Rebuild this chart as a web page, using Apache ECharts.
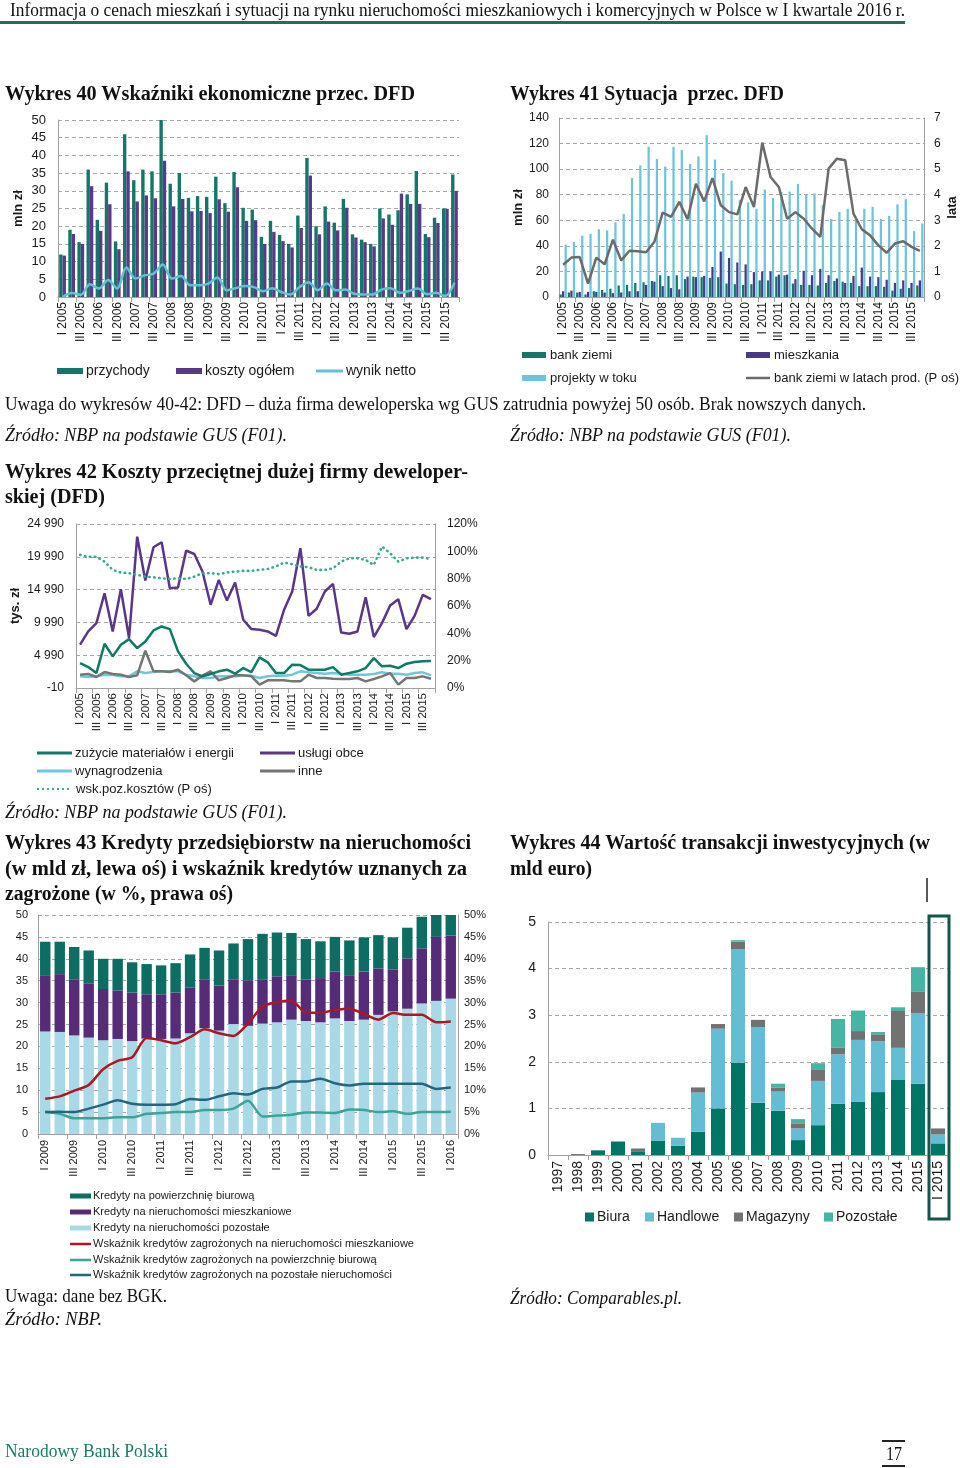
<!DOCTYPE html>
<html><head><meta charset="utf-8">
<script src="https://cdn.jsdelivr.net/npm/echarts@6/dist/echarts.min.js"></script>
<style>
html,body{margin:0;padding:0;background:#fff;}
#page{position:relative;width:960px;height:1468px;overflow:hidden;background:#fff;}
#chart{position:absolute;left:0;top:0;width:960px;height:1468px;}
.t{position:absolute;white-space:pre;transform-origin:0 50%;color:#111;line-height:1;}
.rule{position:absolute;}
</style></head><body>
<div id="page"><div id="chart"></div></div>
<script>
// ---------- categories ----------
const romans = ['I','II','III','IV'];
const quarters0515 = [];
for (let y = 2005; y <= 2015; y++) for (let q = 0; q < 4; q++) quarters0515.push(romans[q] + ' ' + y);
const quarters0916 = [];
for (let y = 2009; y <= 2016; y++) for (let q = 0; q < 4; q++) { if (y === 2016 && q > 0) break; quarters0916.push(romans[q] + ' ' + y); }
const years44 = ['1997','1998','1999','2000','2001','2002','2003','2004','2005','2006','2007','2008','2009','2010','2011','2012','2013','2014','2015','I 2015'];

// ---------- Wykres 40 ----------
const w40_przychody = [12,19,15.5,36,21.8,32.3,15.7,46,33,36,35.5,50,32,35,28,28.5,28.3,34,26.5,35.3,25.2,24.7,17,21.5,17.5,15,23,39.3,20,25.6,21,27.7,17.7,16.2,15,25,23.3,24.5,29,35.6,17.8,22.4,25,34.6];
const w40_koszty = [11.7,17.8,15,31.3,18.7,26.2,13.5,35.5,27,28.7,27.9,38.5,25.6,27.7,24.2,24.3,23.7,27.6,24.1,31,21.5,21.7,15,18.4,15.8,14,19.5,34.3,17.7,21.3,18.8,25.2,16.8,15.5,14.3,22.2,20.4,29.2,26.3,26.3,16.9,20.9,24.9,30];
const w40_netto = [0,1.1,0.6,3.6,2.4,4.8,2.4,8.3,5.2,6.1,6.6,9.2,5.2,5.9,3.3,3.3,3.8,5.5,1.9,2.5,3.1,2.8,1.6,2.5,1.4,0.7,2.8,4.2,1.9,3.8,1.9,2.1,0.9,0.7,0.7,2.1,2.5,1.2,1.7,2.4,0.8,1.2,0.3,4.0];

// ---------- Wykres 41 ----------
const w41_bankZiemi = [2,3.5,3.5,2,4.5,5.5,6.5,9,9.5,11,11.5,12.5,17,16.5,17,14,16,15.5,15,15.5,10.5,10,9.5,10,13,13,16,17,10.5,9.5,9.5,9,11,12.5,12,11,8.5,8.5,8.5,8,5,6.5,7,9];
const w41_mieszkania = [4.5,5,4,4,4,3.5,3,3.5,4.5,4.5,9.5,12,8.5,7,6,16,15.5,16.5,23.5,35.5,30.5,27,25.5,19.5,20,20,17.5,17.5,14,20.5,17,22,17,14.5,11,16.5,23,16,15.5,13.5,11,13,11,13];
const w41_projekty = [41,43,48,49.5,53,52,58.5,65,93,103,117.5,108,102,117.5,115,104,110,126.5,107.5,97,91,76,74,69,84,77.5,82,82.5,88.5,80,81,72,61,66.5,69,60,69,70.5,61,63.5,72.5,76.5,51.5,57.5];
const w41_lata = [1.26,1.54,1.56,0.52,1.54,1.28,2.24,1.43,1.81,1.79,1.75,2.16,3.3,3.13,3.72,3.04,4.43,3.74,4.65,3.59,3.32,3.23,4.3,3.52,6.04,4.69,4.3,3.06,3.32,3.06,2.67,2.35,5.02,5.41,5.35,3.26,2.65,2.41,2.02,1.73,2.09,2.18,1.96,1.8];

// ---------- Wykres 42 ----------
const w42_zuzycie = [3790,3180,2270,6730,4810,6580,7440,6070,7090,8760,9370,8970,5570,3690,2270,1770,2120,2530,2780,2170,3030,2400,4660,3900,2270,2270,3540,3490,2780,2780,2780,3180,2020,2270,2530,3030,4550,3290,3390,3030,3690,3950,4050,4100];
const w42_uslugi = [6590,8610,9880,14440,8610,15050,7600,23060,16370,21440,22200,15200,15300,20930,20420,17740,12670,16470,13330,16070,10390,8970,8870,8610,7950,11910,14700,21290,10990,12060,14700,15860,8460,8250,8610,13830,7750,9880,12570,13530,8970,10990,14190,13530];
const w42_wynagr = [1770,1660,1770,2020,1970,1770,1770,2530,2270,2420,2530,2530,2530,2020,1770,1510,1510,1770,1770,1770,1870,1870,1510,1770,1870,1870,2020,2530,2380,2270,2170,2270,2170,2020,2020,2020,2120,2380,2170,2170,2020,2270,2380,1920];
const w42_inne = [2020,2120,1660,2420,2120,2020,1660,1920,5670,2530,2530,2420,2780,1920,1000,1870,2530,1160,1510,1920,1920,1770,500,1160,1160,1160,1000,1000,2020,1510,1510,1410,1360,1360,1510,1000,1360,1770,2270,500,1510,1510,1770,1400];
const w42_wsk = [0.974,0.96,0.96,0.925,0.864,0.845,0.84,0.828,0.815,0.81,0.803,0.798,0.803,0.798,0.815,0.84,0.84,0.833,0.845,0.852,0.857,0.857,0.864,0.871,0.889,0.918,0.906,0.889,0.884,0.864,0.864,0.876,0.925,0.949,0.949,0.937,0.90,1.035,0.986,0.925,0.949,0.954,0.954,0.944];

// ---------- Wykres 43 ----------
const w43_pozostale = [23.4,23.3,22.5,22,21.4,21.7,21.2,21.8,21.7,21.8,23,24.2,23.6,25.1,24.7,25.2,25.5,26.1,25.8,25.5,26.4,25.8,26.1,27.2,28,28.6,29.8,30.4,30.9];
const w43_mieszkaniowe = [12.7,13.2,12.7,12.4,11.7,11.1,11.1,10.1,10.2,10.5,10.4,11,10.3,10.1,10.4,10,10.5,10,9.5,10.1,10.7,10.3,11,10.6,9.6,11.5,12.6,14.6,14.4];
const w43_biurowa = [7.8,7.4,7.5,7.5,6.9,7.2,6.9,6.9,6.6,6.7,7.6,7.3,8,8.3,9.4,10.5,10,9.8,9.2,8.4,7.9,8.1,7.8,7.6,7.3,7,7.2,5,4.7];
const w43_nplMieszk = [8.05,8.6,9.9,11.2,14.8,16.7,17.5,21.9,21.4,20.7,22.1,23.9,23,22.4,25.2,29.1,30.1,30.5,27.7,27.7,28.3,28.6,27.4,26.1,27.6,27.2,27.2,25.5,25.7];
const w43_nplBiur = [5,4.6,3.6,3.6,3.6,3.8,3.8,4.6,4.8,5,5,5.5,5.5,5.8,7.6,4,4.2,4.4,4.9,4.9,4.8,5.6,5.5,5,5.2,4.6,5,5,5.1];
const w43_nplPoz = [5,5.1,5,5.8,6.7,7.7,6.9,6.7,6.7,6.8,8,7.8,8.6,9.3,9,10.3,10.6,12,12,12.6,11.6,11.1,11.5,11.5,11.5,11.5,11.5,10.3,10.6];

// ---------- Wykres 44 ----------
const w44_biura = [0,0,0.1,0.29,0.08,0.31,0.2,0.5,1.0,1.98,1.12,0.95,0.32,0.64,1.1,1.14,1.35,1.61,1.53,0.25];
const w44_handlowe = [0,0,0,0,0,0.38,0.17,0.84,1.71,2.44,1.62,0.41,0.25,0.95,1.06,1.33,1.09,0.69,1.51,0.19];
const w44_magazyny = [0,0.02,0,0,0.06,0,0,0.11,0.1,0.16,0.16,0.09,0.11,0.25,0.14,0.19,0.15,0.79,0.46,0.13];
const w44_pozostale = [0,0,0,0,0,0,0,0,0,0.03,0,0.08,0.09,0.13,0.62,0.44,0.05,0.08,0.53,0];

// ---------- page texts ----------
const SERIF = '"Liberation Serif","DejaVu Serif",serif';
const texts = [
  {t:'Informacja o cenach mieszkań i sytuacji na rynku nieruchomości mieszkaniowych i komercyjnych w Polsce w I kwartale 2016 r.', x:10, y:10, w:895, fs:18},
  {t:'Wykres 40 Wskaźniki ekonomiczne przec. DFD', x:5, y:93, w:410, fs:20, b:1},
  {t:'Wykres 41 Sytuacja  przec. DFD', x:510, y:93, w:274, fs:20, b:1},
  {t:'Uwaga do wykresów 40-42: DFD – duża firma deweloperska wg GUS zatrudnia powyżej 50 osób. Brak nowszych danych.', x:5, y:404, w:861, fs:18},
  {t:'Źródło: NBP na podstawie GUS (F01).', x:5, y:435, w:282, fs:18, i:1},
  {t:'Źródło: NBP na podstawie GUS (F01).', x:510, y:435, w:281, fs:18, i:1},
  {t:'Wykres 42 Koszty przeciętnej dużej firmy deweloper-', x:5, y:471, w:463, fs:20, b:1},
  {t:'skiej (DFD)', x:5, y:496, w:100, fs:20, b:1},
  {t:'Źródło: NBP na podstawie GUS (F01).', x:5, y:812, w:282, fs:18, i:1},
  {t:'Wykres 43 Kredyty przedsiębiorstw na nieruchomości', x:5, y:842, w:466, fs:20, b:1},
  {t:'(w mld zł, lewa oś) i wskaźnik kredytów uznanych za', x:5, y:868, w:462, fs:20, b:1},
  {t:'zagrożone (w %, prawa oś)', x:5, y:893, w:228, fs:20, b:1},
  {t:'Wykres 44 Wartość transakcji inwestycyjnych (w', x:510, y:842, w:420, fs:20, b:1},
  {t:'mld euro)', x:510, y:868, w:82, fs:20, b:1},
  {t:'Uwaga: dane bez BGK.', x:5, y:1296, w:162, fs:18},
  {t:'Źródło: NBP.', x:5, y:1319, w:97, fs:18, i:1},
  {t:'Źródło: Comparables.pl.', x:510, y:1298, w:172, fs:18, i:1},
  {t:'Narodowy Bank Polski', x:5, y:1451, w:163, fs:18, c:'#1b7a66'},
  {t:'17', x:886, y:1454, w:16, fs:18}
];
const page = document.getElementById('page');
texts.forEach(o => {
  const d = document.createElement('div');
  d.className = 't';
  d.textContent = o.t;
  d.style.left = o.x + 'px';
  d.style.top = (o.y - o.fs / 2) + 'px';
  d.style.fontSize = o.fs + 'px';
  d.style.fontFamily = SERIF;
  if (o.b) d.style.fontWeight = 'bold';
  if (o.i) d.style.fontStyle = 'italic';
  if (o.c) d.style.color = o.c;
  page.appendChild(d);
  const wNow = d.getBoundingClientRect().width;
  if (wNow > 0) d.style.transform = 'scaleX(' + (o.w / wNow) + ')';
});
function rule(x, y, w, h, c) {
  const r = document.createElement('div');
  r.className = 'rule';
  Object.assign(r.style, {left:x+'px', top:y+'px', width:w+'px', height:h+'px', background:c});
  page.appendChild(r);
}
rule(0, 21, 905, 3, '#1f6f5c');
rule(882, 1440, 23, 1.5, '#222');
rule(882, 1465, 23, 1.5, '#222');

// ---------- chart ----------
const SANS = 'Liberation Sans, Arial, sans-serif';
const AX = '#a0a0a0';
const TXT = '#1a1a1a';
const LINE_ICON = 'rect';
const DOT_ICON = 'path://M0,0h2v2h-2z M5,0h2v2h-2z M10,0h2v2h-2z M15,0h2v2h-2z M20,0h2v2h-2z M25,0h2v2h-2z M30,0h2v2h-2z';
function catAxis(grid, data, fs, extra) {
  return Object.assign({
    type:'category', gridIndex:grid, data:data,
    axisLine:{show:true, lineStyle:{color:AX, width:1}},
    axisTick:{show:true, lineStyle:{color:AX}},
    axisLabel:{rotate:90, interval:1, fontSize:fs, color:TXT, fontFamily:SANS, margin:5}
  }, extra || {});
}
function valAxis(grid, min, max, interval, fs, extra) {
  return Object.assign({
    type:'value', gridIndex:grid, min:min, max:max, interval:interval,
    axisLine:{show:true, lineStyle:{color:AX, width:1}},
    axisTick:{show:false},
    splitLine:{show:true, lineStyle:{type:[4,3], color:'#a8a8a8', width:1}},
    axisLabel:{fontSize:fs, color:TXT, fontFamily:SANS, margin:10}
  }, extra || {});
}
function leg(name, x, cy, o) {
  o = o || {};
  const fs = o.fs || 13;
  const lh = Math.max(fs + 2, o.h || 7);
  return {
    data:[name], left:x, top:cy - lh / 2, orient:'horizontal', padding:0,
    itemWidth:o.w || 25, itemHeight:o.h || 7, itemGap:0, selectedMode:false,
    icon:o.icon || 'rect', textStyle:{fontSize:fs, fontFamily:SANS, color:TXT, lineHeight:lh, padding:[0,0,0,o.tp||-1]}
  };
}
const thousands = v => String(v).replace(/\B(?=(\d{3})+(?!\d))/g, ' ');

const C = {
  teal:'#127768', purple:'#5a3a88', lblue:'#63c1d3', grey:'#6b6b6b',
  teal41:'#127768', purple41:'#4b3889', proj:'#6cc5d8',
  z42:'#0f7a66', u42:'#5b3589', w42:'#6fc7dc', i42:'#757575', d42:'#3aa896',
  b43:'#0d6d63', m43:'#562c78', p43:'#a9d8e6', r43:'#ae1622', nb43:'#3aa597', np43:'#22687c',
  b44:'#007766', h44:'#63bdd5', m44:'#727272', p44:'#46b5a3'
};

const option = {
  animation:false,
  textStyle:{fontFamily:SANS},
  grid:[
    {left:58, top:120, width:401, height:177},
    {left:559, top:118, width:368, height:179},
    {left:76, top:524, width:359, height:164},
    {left:38, top:915, width:420, height:219},
    {left:548, top:922, width:400, height:233}
  ],
  xAxis:[
    catAxis(0, quarters0515, 12, {axisTick:{show:true, interval:1, lineStyle:{color:AX}}}),
    catAxis(1, quarters0515, 12),
    catAxis(2, quarters0515, 11.5),
    catAxis(3, quarters0916, 11, {axisLabel:{rotate:90, interval:1, fontSize:11, color:TXT, fontFamily:SANS, margin:6}}),
    catAxis(4, years44, 14, {axisTick:{show:true, interval:0, lineStyle:{color:AX}}, axisLabel:{rotate:90, interval:0, fontSize:14, color:TXT, fontFamily:SANS, margin:6}})
  ],
  yAxis:[
    valAxis(0, 0, 50, 5, 13, {name:'mln zł', nameLocation:'middle', nameGap:33, nameTextStyle:{fontSize:13, fontWeight:'bold', color:TXT, fontFamily:SANS}, axisLabel:{fontSize:13, color:TXT, fontFamily:SANS, margin:12}}),
    valAxis(1, 0, 140, 20, 12, {name:'mln zł', nameLocation:'middle', nameGap:34, nameTextStyle:{fontSize:13, fontWeight:'bold', color:TXT, fontFamily:SANS}}),
    valAxis(1, 0, 7, 1, 12, {position:'right', splitLine:{show:false}, name:'lata', nameLocation:'middle', nameGap:22, nameRotate:90, nameTextStyle:{fontSize:13, fontWeight:'bold', color:TXT, fontFamily:SANS}}),
    valAxis(2, -10, 24990, 5000, 12, {name:'tys. zł', nameLocation:'middle', nameGap:54, nameTextStyle:{fontSize:13, fontWeight:'bold', color:TXT, fontFamily:SANS}, axisLabel:{fontSize:12, color:TXT, fontFamily:SANS, margin:12, formatter:thousands}}),
    valAxis(2, 0, 1.2, 0.2, 12, {position:'right', splitLine:{show:false}, axisLabel:{fontSize:12, color:TXT, fontFamily:SANS, margin:12, formatter:v => Math.round(v * 100) + '%'}}),
    valAxis(3, 0, 50, 5, 11, {axisLabel:{fontSize:11, color:TXT, fontFamily:SANS, margin:10}}),
    valAxis(3, 0, 50, 5, 11, {position:'right', splitLine:{show:false}, axisLabel:{fontSize:11, color:TXT, fontFamily:SANS, margin:6, formatter:'{value}%'}}),
    valAxis(4, 0, 5, 1, 14, {axisLabel:{fontSize:14, color:TXT, fontFamily:SANS, margin:12}})
  ],
  legend:[
    leg('przychody', 57, 371, {fs:14, w:26, h:6, tp:-2}),
    leg('koszty ogółem', 176, 371, {fs:14, w:26, h:6, tp:-2}),
    leg('wynik netto', 316, 371, {fs:14, w:27, h:3, tp:-2, icon:LINE_ICON}),
    leg('bank ziemi', 522, 355, {fs:13, w:24, h:6}),
    leg('mieszkania', 746, 355, {fs:13, w:24, h:6}),
    leg('projekty w toku', 522, 378, {fs:13, w:24, h:6}),
    leg('bank ziemi w latach prod. (P oś)', 746, 378, {fs:13, w:24, h:2.5, icon:LINE_ICON}),
    leg('zużycie materiałów i energii', 37, 753, {fs:13, w:35, h:3, icon:LINE_ICON, tp:-2}),
    leg('usługi obce', 260, 753, {fs:13, w:35, h:3, icon:LINE_ICON, tp:-2}),
    leg('wynagrodzenia', 37, 771, {fs:13, w:35, h:3, icon:LINE_ICON, tp:-2}),
    leg('inne', 260, 771, {fs:13, w:35, h:3, icon:LINE_ICON, tp:-2}),
    leg('wsk.poz.kosztów (P oś)', 37, 789, {fs:13, w:32, h:2.5, icon:DOT_ICON, tp:2}),
    leg('Kredyty na powierzchnię biurową', 70, 1196, {fs:11, w:21, h:5, tp:-3}),
    leg('Kredyty na nieruchomości mieszkaniowe', 70, 1212, {fs:11, w:21, h:5, tp:-3}),
    leg('Kredyty na nieruchomości pozostałe', 70, 1228, {fs:11, w:21, h:5, tp:-3}),
    leg('Wskaźnik kredytów zagrożonych na nieruchomości mieszkaniowe', 70, 1244, {fs:11, w:21, h:2.5, tp:-3, icon:LINE_ICON}),
    leg('Wskaźnik kredytów zagrożonych na powierzchnię biurową', 70, 1260, {fs:11, w:21, h:2.5, tp:-3, icon:LINE_ICON}),
    leg('Wskaźnik kredytów zagrożonych na pozostałe nieruchomości', 70, 1275, {fs:11, w:21, h:2.5, tp:-3, icon:LINE_ICON}),
    leg('Biura', 585, 1217, {fs:14, w:9, h:9, tp:-2}),
    leg('Handlowe', 645, 1217, {fs:14, w:9, h:9, tp:-2}),
    leg('Magazyny', 734, 1217, {fs:14, w:9, h:9, tp:-2}),
    leg('Pozostałe', 824, 1217, {fs:14, w:9, h:9, tp:-2})
  ],
  graphic:[
    {type:'rect', shape:{x:929, y:916, width:20, height:303}, style:{fill:null, stroke:'#14574a', lineWidth:3}, z:100},
    {type:'line', shape:{x1:927, y1:878, x2:927, y2:902}, style:{stroke:'#222', lineWidth:1.5}, z:100}
  ],
  series:[
    // Wykres 40
    {name:'przychody', type:'bar', xAxisIndex:0, yAxisIndex:0, data:w40_przychody, itemStyle:{color:C.teal}, barGap:'0%', barCategoryGap:'26%'},
    {name:'koszty ogółem', type:'bar', xAxisIndex:0, yAxisIndex:0, data:w40_koszty, itemStyle:{color:C.purple}},
    {name:'wynik netto', type:'line', xAxisIndex:0, yAxisIndex:0, data:w40_netto, symbol:'none', smooth:0.3, lineStyle:{color:C.lblue, width:2.5}, itemStyle:{color:C.lblue}},
    // Wykres 41
    {name:'bank ziemi', type:'bar', xAxisIndex:1, yAxisIndex:1, data:w41_bankZiemi, itemStyle:{color:C.teal41}, barGap:'12%', barCategoryGap:'12%'},
    {name:'mieszkania', type:'bar', xAxisIndex:1, yAxisIndex:1, data:w41_mieszkania, itemStyle:{color:C.purple41}},
    {name:'projekty w toku', type:'bar', xAxisIndex:1, yAxisIndex:1, data:w41_projekty, itemStyle:{color:C.proj}},
    {name:'bank ziemi w latach prod. (P oś)', type:'line', xAxisIndex:1, yAxisIndex:2, data:w41_lata, symbol:'none', lineStyle:{color:C.grey, width:2.5}, itemStyle:{color:C.grey}},
    // Wykres 42
    {name:'wynagrodzenia', type:'line', xAxisIndex:2, yAxisIndex:3, data:w42_wynagr, symbol:'none', lineStyle:{color:C.w42, width:2.5}, itemStyle:{color:C.w42}},
    {name:'inne', type:'line', xAxisIndex:2, yAxisIndex:3, data:w42_inne, symbol:'none', lineStyle:{color:C.i42, width:2.5}, itemStyle:{color:C.i42}},
    {name:'zużycie materiałów i energii', type:'line', xAxisIndex:2, yAxisIndex:3, data:w42_zuzycie, symbol:'none', lineStyle:{color:C.z42, width:2.5}, itemStyle:{color:C.z42}},
    {name:'usługi obce', type:'line', xAxisIndex:2, yAxisIndex:3, data:w42_uslugi, symbol:'none', lineStyle:{color:C.u42, width:2.5}, itemStyle:{color:C.u42}},
    {name:'wsk.poz.kosztów (P oś)', type:'line', xAxisIndex:2, yAxisIndex:4, data:w42_wsk, symbol:'none', lineStyle:{color:C.d42, width:2.6, type:[0.5,4.5], cap:'round'}, itemStyle:{color:C.d42}},
    // Wykres 43
    {name:'Kredyty na nieruchomości pozostałe', type:'bar', stack:'k43', xAxisIndex:3, yAxisIndex:5, data:w43_pozostale, itemStyle:{color:C.p43}, barCategoryGap:'28%'},
    {name:'Kredyty na nieruchomości mieszkaniowe', type:'bar', stack:'k43', xAxisIndex:3, yAxisIndex:5, data:w43_mieszkaniowe, itemStyle:{color:C.m43}},
    {name:'Kredyty na powierzchnię biurową', type:'bar', stack:'k43', xAxisIndex:3, yAxisIndex:5, data:w43_biurowa, itemStyle:{color:C.b43}},
    {name:'Wskaźnik kredytów zagrożonych na nieruchomości mieszkaniowe', type:'line', xAxisIndex:3, yAxisIndex:6, data:w43_nplMieszk, symbol:'none', smooth:0.25, lineStyle:{color:C.r43, width:2.5}, itemStyle:{color:C.r43}},
    {name:'Wskaźnik kredytów zagrożonych na powierzchnię biurową', type:'line', xAxisIndex:3, yAxisIndex:6, data:w43_nplBiur, symbol:'none', smooth:0.25, lineStyle:{color:C.nb43, width:2.5}, itemStyle:{color:C.nb43}},
    {name:'Wskaźnik kredytów zagrożonych na pozostałe nieruchomości', type:'line', xAxisIndex:3, yAxisIndex:6, data:w43_nplPoz, symbol:'none', smooth:0.25, lineStyle:{color:C.np43, width:2.5}, itemStyle:{color:C.np43}},
    // Wykres 44
    {name:'Biura', type:'bar', stack:'k44', xAxisIndex:4, yAxisIndex:7, data:w44_biura, itemStyle:{color:C.b44}, barCategoryGap:'30%'},
    {name:'Handlowe', type:'bar', stack:'k44', xAxisIndex:4, yAxisIndex:7, data:w44_handlowe, itemStyle:{color:C.h44}},
    {name:'Magazyny', type:'bar', stack:'k44', xAxisIndex:4, yAxisIndex:7, data:w44_magazyny, itemStyle:{color:C.m44}},
    {name:'Pozostałe', type:'bar', stack:'k44', xAxisIndex:4, yAxisIndex:7, data:w44_pozostale, itemStyle:{color:C.p44}}
  ]
};
const chart = echarts.init(document.getElementById('chart'), null, {renderer:'canvas'});
chart.setOption(option);
</script></body></html>
